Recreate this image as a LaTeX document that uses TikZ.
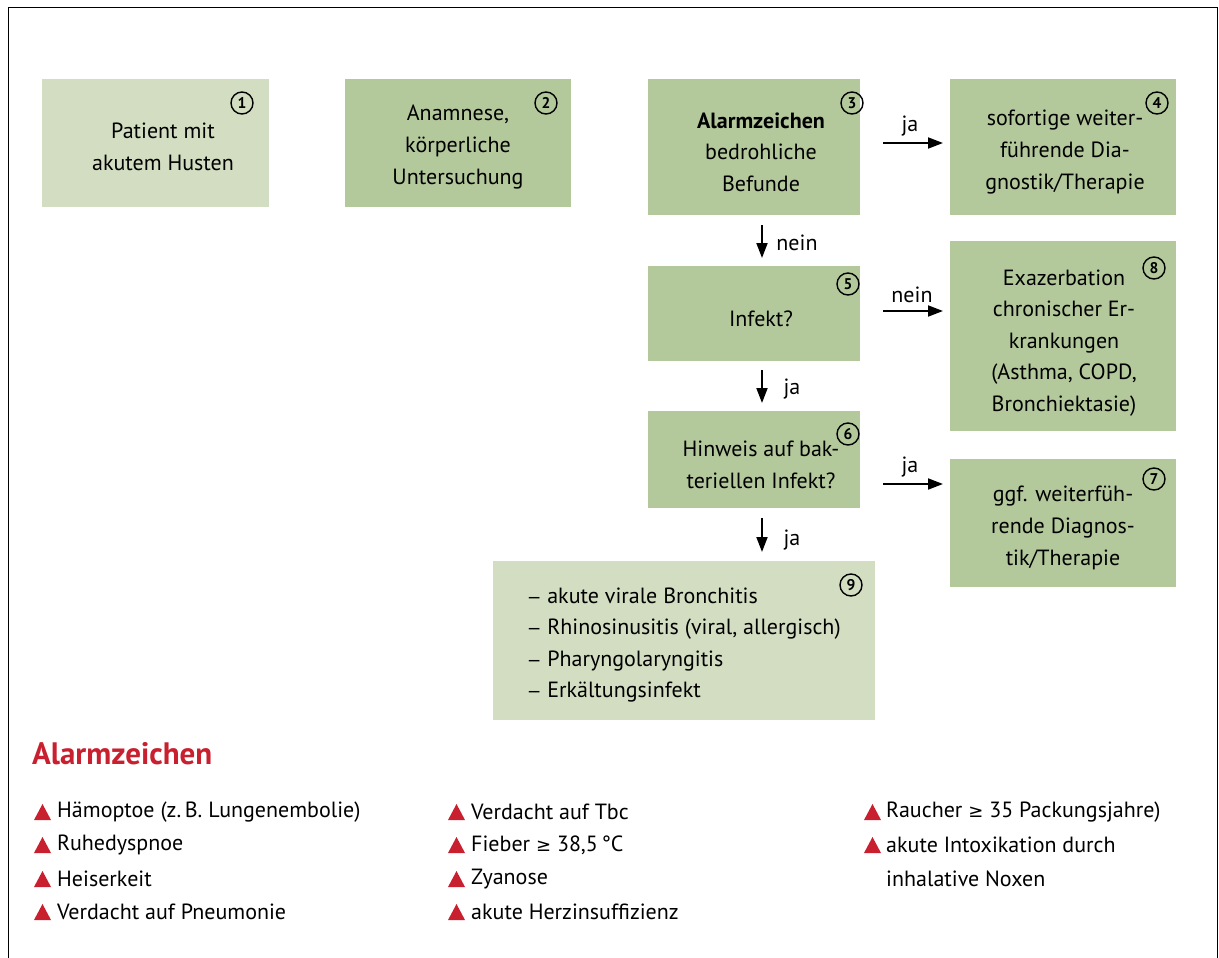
\documentclass[tikz,border=0pt]{standalone}
\usepackage{fontspec}
\setmainfont{PT Sans}
\newfontfamily\symfont{DejaVu Sans}
\usetikzlibrary{arrows.meta}
\definecolor{lightgreen}{HTML}{D3DDC1}
\definecolor{darkgreen}{HTML}{B3C89B}
\definecolor{alarmred}{HTML}{C8202F}
\begin{document}
\begin{tikzpicture}[x=1pt,y=-1pt,
  lbox/.style={fill=lightgreen,draw=none},
  dbox/.style={fill=darkgreen,draw=none},
  txt/.style={font=\fontsize{22}{31.6}\selectfont,align=center,text=black,inner sep=0pt},
  lbl/.style={font=\fontsize{22}{24}\selectfont,anchor=center},
  num/.style={circle,draw,line width=1.4pt,inner sep=0pt,minimum size=22pt,font=\fontsize{15.5}{15.5}\selectfont\bfseries},
  arr/.style={-{Triangle[length=15pt,width=11pt]},line width=1.9pt},
  tri/.style={fill=alarmred,draw=none},
  item/.style={font=\fontsize{22}{24}\selectfont,anchor=west,inner sep=0pt}]
\useasboundingbox (0,0) rectangle (1219,958);
% frame
\draw[line width=1.6pt] (8.5,958) -- (8.5,7.5) -- (1217.5,7.5) -- (1217.5,958);
% boxes
\fill[lbox] (42,79) rectangle (269,207);
\fill[dbox] (345,79) rectangle (571,207);
\fill[dbox] (648,79) rectangle (860,215);
\fill[dbox] (950,79) rectangle (1176,215);
\fill[dbox] (648,266) rectangle (860,361);
\fill[dbox] (950,241) rectangle (1176,431);
\fill[dbox] (648,411) rectangle (860,508);
\fill[dbox] (950,459) rectangle (1176,587);
\fill[lbox] (493,561) rectangle (875,720);
% box texts
\node[txt] (t1) at (163,147) {Patient mit\\akutem Husten};
\node[txt] (t2) at (458,147) {Anamnese,\\körperliche\\Untersuchung};
\node[txt] (t3) at (761,152) {\textbf{Alarmzeichen}\\bedrohliche\\Befunde};
\node[txt] (t4) at (1065,152) {sofortige weiter-\\führende Dia-\\gnostik/Therapie};
\node[txt] (t5) at (761,319) {Infekt?};
\node[txt] (t8) at (1064,343) {Exazerbation\\chronischer Er-\\krankungen\\(Asthma, COPD,\\Bronchiektasie)};
\node[txt] (t6) at (761,465) {Hinweis auf bak-\\teriellen Infekt?};
\node[txt] (t7) at (1063,528) {ggf. weiterfüh-\\rende Diagnos-\\tik/Therapie};
\node[txt,align=left,anchor=west] (t9) at (527,645) {{\symfont\fontsize{17}{17}\selectfont −} akute virale Bronchitis\\{\symfont\fontsize{17}{17}\selectfont −} Rhinosinusitis (viral, allergisch)\\{\symfont\fontsize{17}{17}\selectfont −} Pharyngolaryngitis\\{\symfont\fontsize{17}{17}\selectfont −} Erkältungsinfekt};
% numbers
\node[num] (n1) at (242,103) {1};
\node[num] (n2) at (546,103) {2};
\node[num] (n3) at (852,103) {3};
\node[num] (n4) at (1157,103) {4};
\node[num] (n5) at (848,284) {5};
\node[num] (n8) at (1154,268) {8};
\node[num] (n6) at (848,434) {6};
\node[num] (n7) at (1154,479) {7};
\node[num] (n9) at (851,585) {9};
% arrow coordinates
\coordinate (a34s) at (883,143); \coordinate (a34e) at (943,143);
\coordinate (a58s) at (883,311); \coordinate (a58e) at (943,311);
\coordinate (a67s) at (883,484); \coordinate (a67e) at (943,484);
\coordinate (a35s) at (762,225); \coordinate (a35e) at (762,258);
\coordinate (a56s) at (762,370); \coordinate (a56e) at (762,403);
\coordinate (a69s) at (762,518); \coordinate (a69e) at (762,552);
\draw[arr] (a34s) -- (a34e);
\draw[arr] (a58s) -- (a58e);
\draw[arr] (a67s) -- (a67e);
\draw[arr] (a35s) -- (a35e);
\draw[arr] (a56s) -- (a56e);
\draw[arr] (a69s) -- (a69e);
\node[lbl] (l34) at (910,126) {ja};
\node[lbl] (l58) at (912,295) {nein};
\node[lbl] (l67) at (910,467) {ja};
\node[lbl] (l35) at (797,243) {nein};
\node[lbl] (l56) at (792,389) {ja};
\node[lbl] (l69) at (792,540) {ja};
% Alarmzeichen legend
\node[anchor=west,inner sep=0pt,text=alarmred,font=\fontsize{31}{31}\selectfont\bfseries] (head) at (32,754) {Alarmzeichen};
\foreach \x/\y in {34/812,34/845,34/879,34/912,448/812,448/845,448/879,448/912,864/812,864/845}{
  \fill[tri] (\x,\y+8) -- (\x+17,\y+8) -- (\x+8.5,\y-8) -- cycle;
}
\node[item] (i1) at (57,812) {Hämoptoe (z.\,B. Lungenembolie)};
\node[item] (i2) at (57,845) {Ruhedyspnoe};
\node[item] (i3) at (57,879) {Heiserkeit};
\node[item] (i4) at (57,912) {Verdacht auf Pneumonie};
\node[item] (i5) at (471,812) {Verdacht auf Tbc};
\node[item] (i6) at (471,845) {Fieber {\symfont\fontsize{18}{18}\selectfont ≥} 38,5\,°C};
\node[item] (i7) at (471,879) {Zyanose};
\node[item] (i8) at (471,912) {akute Herzinsuffizienz};
\node[item] (i9) at (886,812) {Raucher {\symfont\fontsize{18}{18}\selectfont ≥} 35 Packungsjahre)};
\node[item] (i10) at (886,845) {akute Intoxikation durch};
\node[item] (i11) at (886,879) {inhalative Noxen};
\end{tikzpicture}
\end{document}
